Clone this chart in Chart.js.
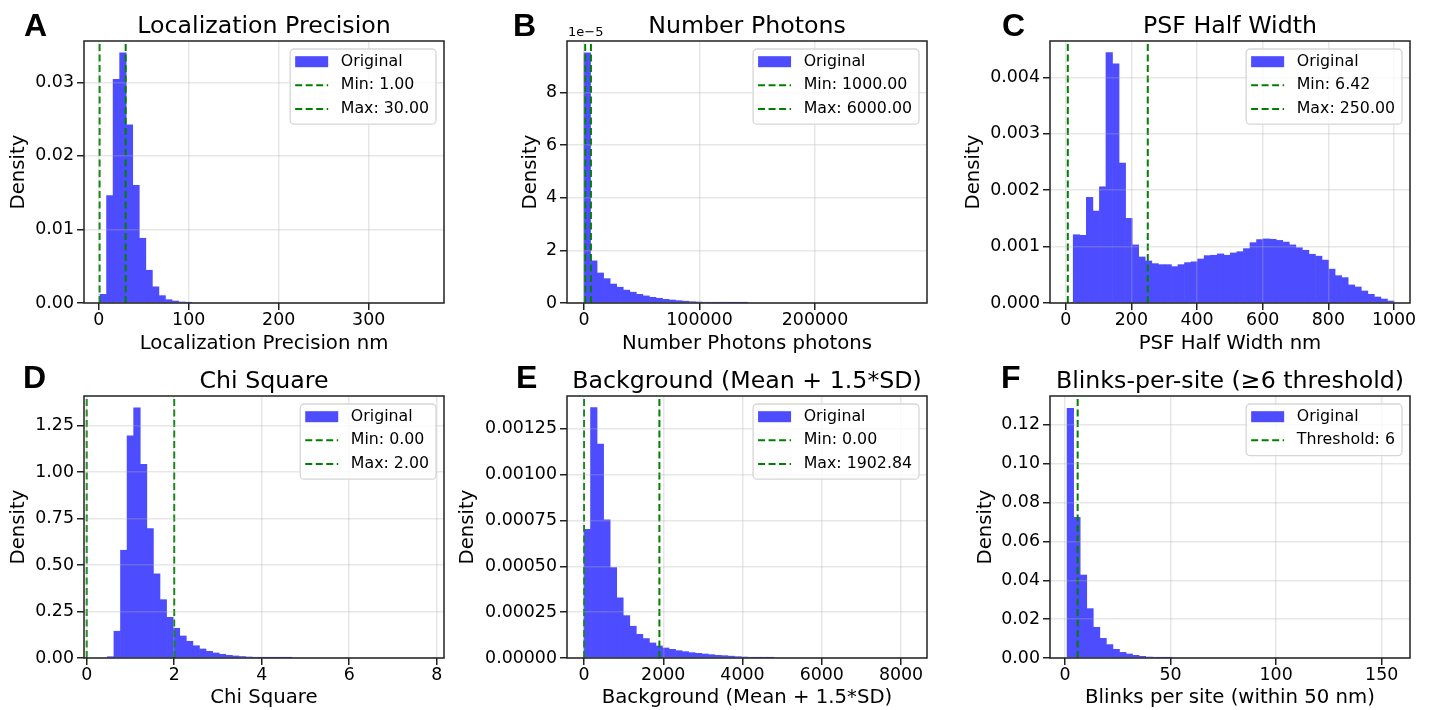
<!DOCTYPE html>
<html>
<head>
<meta charset="utf-8">
<title>SMLM filter histograms</title>
<script src="https://cdn.jsdelivr.net/npm/chart.js@4.4.1/dist/chart.umd.min.js"></script>
<style>
  html, body { margin: 0; padding: 0; background: #fff; }
  #page { position: relative; width: 1431px; height: 710px; overflow: hidden; background: #fff; }
  canvas { position: absolute; }
  .letter { position: absolute; font: bold 32px "Liberation Sans", Arial, sans-serif; line-height: 32px; color: #000; }
</style>
</head>
<body>
<div id="page">
  <canvas id="chartA" width="460" height="356" style="left:7px;top:0px"></canvas>
  <canvas id="chartB" width="430" height="356" style="left:519px;top:0px"></canvas>
  <canvas id="chartC" width="469" height="356" style="left:962px;top:0px"></canvas>
  <canvas id="chartD" width="460" height="355" style="left:7px;top:355px"></canvas>
  <canvas id="chartE" width="493" height="355" style="left:456px;top:355px"></canvas>
  <canvas id="chartF" width="457" height="355" style="left:974px;top:355px"></canvas>
  <div class="letter" style="left:24px;top:9px">A</div>
  <div class="letter" style="left:513px;top:9px">B</div>
  <div class="letter" style="left:1002px;top:9px">C</div>
  <div class="letter" style="left:23px;top:361px">D</div>
  <div class="letter" style="left:516px;top:361px">E</div>
  <div class="letter" style="left:1001px;top:361px">F</div>
</div>
<script>
const FONT = '"DejaVu Sans", sans-serif';
const BAR_COLOR = '#4d4dff';
const LINE_COLOR = '#008000';

// A - localization precision (nm)
const precBinStart = 1.5;
const precBinWidth = 7.27;
const precDensity = [0.00118, 0.0146, 0.0304, 0.0340, 0.0242, 0.0160, 0.0088, 0.00445, 0.0022, 0.0010,
  0.00045, 0.00027, 0.00014, 0.00006];
const precLimits = [1.00, 30.00];
const precLegend = ['Original', 'Min: 1.00', 'Max: 30.00'];
const precXTicks = [0, 100, 200, 300];
const precXLabels = ['0', '100', '200', '300'];
const precYTicks = [0, 0.01, 0.02, 0.03];
const precYLabels = ['0.00', '0.01', '0.02', '0.03'];

// B - number of photons
const photBinStart = 0;
const photBinWidth = 5662;
const photDensity = [9.50e-5, 1.60e-5, 1.14e-5, 0.925e-5, 0.72e-5, 0.60e-5, 0.49e-5, 0.41e-5, 0.33e-5, 0.27e-5,
  0.215e-5, 0.18e-5, 0.14e-5, 0.114e-5, 0.089e-5, 0.07e-5, 0.05e-5, 0.038e-5, 0.03e-5, 0.024e-5,
  0.019e-5, 0.015e-5, 0.012e-5, 0.01e-5, 0.008e-5];
const photLimits = [1000, 6000];
const photLegend = ['Original', 'Min: 1000.00', 'Max: 6000.00'];
const photXTicks = [0, 100000, 200000];
const photXLabels = ['0', '100000', '200000'];
const photYTicks = [0, 2e-5, 4e-5, 6e-5, 8e-5];
const photYLabels = ['0', '2', '4', '6', '8'];

// C - PSF half width (nm)
const psfBinStart = 3;
const psfBinWidth = 19.94;
const psfDensity = [0, 0.00121, 0.00120, 0.001875, 0.00163, 0.00206, 0.004437, 0.00424, 0.00248, 0.0015,
  0.00103, 0.000816, 0.000745, 0.000698, 0.00068, 0.00068, 0.000645, 0.00068, 0.000716, 0.00073,
  0.00078, 0.00084, 0.000846, 0.00087, 0.000846, 0.000887, 0.00091, 0.000964, 0.00107, 0.001124,
  0.001136, 0.00113, 0.00111, 0.00108, 0.00103, 0.00098, 0.000935, 0.000864, 0.00083, 0.00076,
  0.0006, 0.000485, 0.00045, 0.00032, 0.000284, 0.000213, 0.000154, 0.000106, 0.00007, 0.000035];
const psfLimits = [6.42, 250.00];
const psfLegend = ['Original', 'Min: 6.42', 'Max: 250.00'];
const psfXTicks = [0, 200, 400, 600, 800, 1000];
const psfXLabels = ['0', '200', '400', '600', '800', '1000'];
const psfYTicks = [0, 0.001, 0.002, 0.003, 0.004];
const psfYLabels = ['0.000', '0.001', '0.002', '0.003', '0.004'];

// D - chi square
const chiBinStart = 0.472;
const chiBinWidth = 0.1504;
const chiDensity = [0.007, 0.144, 0.58, 1.196, 1.347, 1.042, 0.697, 0.453, 0.314, 0.219,
  0.16, 0.1185, 0.09, 0.066, 0.0485, 0.036, 0.027, 0.02, 0.0144, 0.011,
  0.008, 0.0055, 0.0036, 0.0025, 0.0017, 0.0012, 0.0008, 0.0005];
const chiLimits = [0.00, 2.00];
const chiLegend = ['Original', 'Min: 0.00', 'Max: 2.00'];
const chiXTicks = [0, 2, 4, 6, 8];
const chiXLabels = ['0', '2', '4', '6', '8'];
const chiYTicks = [0, 0.25, 0.5, 0.75, 1.0, 1.25];
const chiYLabels = ['0.00', '0.25', '0.50', '0.75', '1.00', '1.25'];

// E - background (mean + 1.5*SD)
const bgBinStart = 0;
const bgBinWidth = 165;
const bgDensity = [0.000702, 0.001365, 0.001166, 0.000753, 0.000493, 0.000328, 0.000231, 0.000173, 0.000129, 0.000106,
  0.000082, 0.0000655, 0.0000546, 0.0000473, 0.00004, 0.0000346, 0.0000291, 0.0000255, 0.0000218, 0.0000182,
  0.0000146, 0.0000127, 0.00001, 0.0000073, 0.0000055, 0.0000036, 0.0000025, 0.0000015, 0.000001];
const bgLimits = [0.00, 1902.84];
const bgLegend = ['Original', 'Min: 0.00', 'Max: 1902.84'];
const bgXTicks = [0, 2000, 4000, 6000, 8000];
const bgXLabels = ['0', '2000', '4000', '6000', '8000'];
const bgYTicks = [0, 0.00025, 0.0005, 0.00075, 0.001, 0.00125];
const bgYLabels = ['0.00000', '0.00025', '0.00050', '0.00075', '0.00100', '0.00125'];

// F - blinks per site
const blinkBinStart = 1.0;
const blinkBinWidth = 3.1;
const blinkDensity = [0.1284, 0.0724, 0.0427, 0.0254, 0.0158, 0.0101, 0.0069, 0.00446, 0.0029, 0.00206,
  0.00137, 0.00086, 0.0005, 0.0003, 0.0002, 0.0001];
const blinkLimits = [6];
const blinkLegend = ['Original', 'Threshold: 6'];
const blinkXTicks = [0, 50, 100, 150];
const blinkXLabels = ['0', '50', '100', '150'];
const blinkYTicks = [0, 0.02, 0.04, 0.06, 0.08, 0.10, 0.12];
const blinkYLabels = ['0.00', '0.02', '0.04', '0.06', '0.08', '0.10', '0.12'];

// frame, panel title, offset text and the legend box inside the axes
const panelDecor = {
  id: 'panelDecor',
  afterDraw(chart, args, opts) {
    const ctx = chart.ctx;
    const a = chart.chartArea;
    ctx.save();

    ctx.strokeStyle = '#222';
    ctx.lineWidth = 1.5;
    ctx.strokeRect(a.left, a.top, a.right - a.left, a.bottom - a.top);

    ctx.fillStyle = '#000';
    ctx.font = '23.7px ' + FONT;
    ctx.textAlign = 'center';
    ctx.textBaseline = 'alphabetic';
    ctx.fillText(opts.title, (a.left + a.right) / 2, a.top - 7.7);

    if (opts.offsetText) {
      ctx.font = '13px ' + FONT;
      ctx.textAlign = 'left';
      ctx.fillText(opts.offsetText, a.left + 1, a.top - 5);
    }

    // legend
    const labels = opts.legend;
    ctx.font = '15.8px ' + FONT;
    let maxW = 0;
    labels.forEach(l => { maxW = Math.max(maxW, ctx.measureText(l).width); });
    const handle = 33, gap = 12.6, rowH = 23.6;
    const w = 5 + handle + gap + maxW + 7;
    const h = 12.7 + (labels.length - 1) * rowH + 15.3;
    const x = a.right - 8 - w;
    const y = a.top + 8;
    const r = 4;
    ctx.beginPath();
    ctx.moveTo(x + r, y);
    ctx.arcTo(x + w, y, x + w, y + h, r);
    ctx.arcTo(x + w, y + h, x, y + h, r);
    ctx.arcTo(x, y + h, x, y, r);
    ctx.arcTo(x, y, x + w, y, r);
    ctx.closePath();
    ctx.fillStyle = 'rgba(255,255,255,0.8)';
    ctx.fill();
    ctx.strokeStyle = '#d6d6d6';
    ctx.lineWidth = 1.3;
    ctx.stroke();

    labels.forEach((l, i) => {
      const cy = y + 12.7 + i * rowH;
      const hx = x + 5;
      if (i === 0) {
        ctx.fillStyle = BAR_COLOR;
        ctx.fillRect(hx, cy - 5.5, handle, 11);
      } else {
        ctx.strokeStyle = LINE_COLOR;
        ctx.lineWidth = 2;
        ctx.setLineDash([7, 3.5]);
        ctx.beginPath();
        ctx.moveTo(hx, cy);
        ctx.lineTo(hx + handle, cy);
        ctx.stroke();
        ctx.setLineDash([]);
      }
      ctx.fillStyle = '#000';
      ctx.textAlign = 'left';
      ctx.textBaseline = 'middle';
      ctx.fillText(l, hx + handle + gap, cy);
    });
    ctx.restore();
  }
};
Chart.register(panelDecor);

function makePanel(p) {
  const bars = p.density.map((v, i) => ({ x: p.binStart + (i + 0.5) * p.binWidth, y: v }));
  const lines = p.limits.map(t => ({
    type: 'line',
    data: [{ x: t, y: 0 }, { x: t, y: p.yMax }],
    borderColor: LINE_COLOR,
    borderWidth: 2,
    borderDash: [7, 3.5],
    pointRadius: 0,
    order: 0
  }));
  const grid = {
    color: 'rgba(176,176,176,0.3)',
    lineWidth: 1.5,
    tickColor: '#222',
    tickWidth: 1.5,
    tickLength: 7,
    offset: false,
    z: 1
  };
  const tickFont = { family: FONT, size: 17.4 };
  const titleFont = { family: FONT, size: 19.7 };

  return new Chart(document.getElementById(p.id), {
    type: 'bar',
    data: {
      datasets: [{
        data: bars,
        backgroundColor: BAR_COLOR,
        borderWidth: 0,
        barPercentage: 1,
        categoryPercentage: 1,
        order: 1
      }].concat(lines)
    },
    options: {
      responsive: false,
      animation: false,
      events: [],
      layout: { padding: { left: 0, top: 41, right: p.padRight, bottom: 0 } },
      plugins: {
        legend: { display: false },
        tooltip: { enabled: false },
        panelDecor: { title: p.title, legend: p.legend, offsetText: p.offsetText }
      },
      scales: {
        x: {
          type: 'linear',
          min: p.xMin,
          max: p.xMax,
          offset: false,
          grid: grid,
          border: { display: false },
          afterBuildTicks: s => { s.ticks = p.xTicks.map(v => ({ value: v })); },
          afterFit: s => { s.height = p.axisH; },
          ticks: {
            autoSkip: false,
            maxRotation: 0,
            padding: 0,
            color: '#000',
            font: tickFont,
            callback: (v, i) => p.xLabels[i]
          },
          title: { display: true, text: p.xTitle, color: '#000', font: titleFont, padding: 0 }
        },
        y: {
          type: 'linear',
          min: 0,
          max: p.yMax,
          grid: grid,
          border: { display: false },
          afterBuildTicks: s => { s.ticks = p.yTicks.map(v => ({ value: v })); },
          afterFit: s => { s.width = p.axisW; },
          ticks: {
            autoSkip: false,
            padding: 3,
            color: '#000',
            font: tickFont,
            callback: (v, i) => p.yLabels[i]
          },
          title: { display: true, text: 'Density', color: '#000', font: titleFont, padding: 0 }
        }
      }
    }
  });
}

makePanel({
  id: 'chartA', title: 'Localization Precision', xTitle: 'Localization Precision nm',
  binStart: precBinStart, binWidth: precBinWidth, density: precDensity, limits: precLimits, legend: precLegend,
  xTicks: precXTicks, xLabels: precXLabels, yTicks: precYTicks, yLabels: precYLabels,
  xMin: -16.3, xMax: 383.7, yMax: 0.03561, axisW: 77, axisH: 53, padRight: 23
});
makePanel({
  id: 'chartB', title: 'Number Photons', xTitle: 'Number Photons photons', offsetText: '1e\u22125',
  binStart: photBinStart, binWidth: photBinWidth, density: photDensity, limits: photLimits, legend: photLegend,
  xTicks: photXTicks, xLabels: photXLabels, yTicks: photYTicks, yLabels: photYLabels,
  xMin: -14720, xMax: 296970, yMax: 9.95e-5, axisW: 48, axisH: 53, padRight: 22
});
makePanel({
  id: 'chartC', title: 'PSF Half Width', xTitle: 'PSF Half Width nm',
  binStart: psfBinStart, binWidth: psfBinWidth, density: psfDensity, limits: psfLimits, legend: psfLegend,
  xTicks: psfXTicks, xLabels: psfXLabels, yTicks: psfYTicks, yLabels: psfYLabels,
  xMin: -47.8, xMax: 1048.7, yMax: 0.004644, axisW: 88, axisH: 53, padRight: 21
});
makePanel({
  id: 'chartD', title: 'Chi Square', xTitle: 'Chi Square',
  binStart: chiBinStart, binWidth: chiBinWidth, density: chiDensity, limits: chiLimits, legend: chiLegend,
  xTicks: chiXTicks, xLabels: chiXLabels, yTicks: chiYTicks, yLabels: chiYLabels,
  xMin: -0.0617, xMax: 8.167, yMax: 1.41, axisW: 77, axisH: 52, padRight: 23
});
makePanel({
  id: 'chartE', title: 'Background (Mean + 1.5*SD)', xTitle: 'Background (Mean + 1.5*SD)',
  binStart: bgBinStart, binWidth: bgBinWidth, density: bgDensity, limits: bgLimits, legend: bgLegend,
  xTicks: bgXTicks, xLabels: bgXLabels, yTicks: bgYTicks, yLabels: bgYLabels,
  xMin: -429, xMax: 8656, yMax: 0.0014285, axisW: 111, axisH: 52, padRight: 22
});
makePanel({
  id: 'chartF', title: 'Blinks-per-site (\u22656 threshold)', xTitle: 'Blinks per site (within 50 nm)',
  binStart: blinkBinStart, binWidth: blinkBinWidth, density: blinkDensity, limits: blinkLimits, legend: blinkLegend,
  xTicks: blinkXTicks, xLabels: blinkXLabels, yTicks: blinkYTicks, yLabels: blinkYLabels,
  xMin: -7.1, xMax: 163.4, yMax: 0.1348, axisW: 76, axisH: 52, padRight: 21
});
</script>
</body>
</html>
